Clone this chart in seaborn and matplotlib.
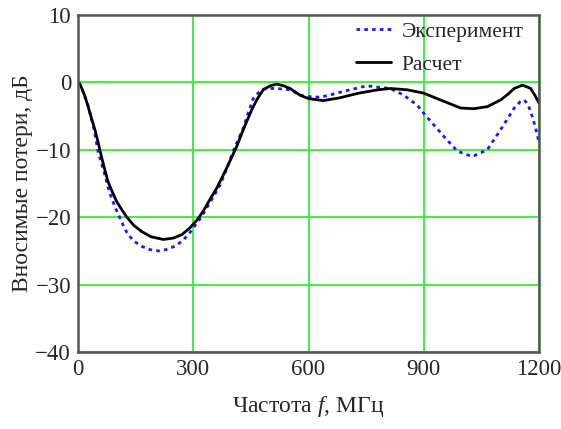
import numpy as np
import pandas as pd
import matplotlib
matplotlib.use("Agg")
import matplotlib.pyplot as plt
import seaborn as sns

# Data
calc_f = [0, 5, 17, 26, 35, 44, 52, 61, 70, 78, 89, 100, 113, 126, 145, 165, 190, 222,
          248, 270, 291, 310, 326, 343, 361, 374, 387, 400, 413, 426, 439, 452, 465, 482,
          500, 517, 535, 552, 578, 600, 638, 680, 730, 780, 813, 857, 900, 943, 996, 1030,
          1065, 1100, 1120, 1135, 1157, 1178, 1190, 1200]
calc_db = [0, -0.2, -1.9, -3.5, -5.3, -7.0, -8.8, -11.0, -13.0, -14.7, -16.2, -17.6, -18.8,
           -19.9, -21.2, -22.1, -22.9, -23.3, -23.1, -22.6, -21.6, -20.4, -19.1, -17.4, -15.7,
           -14.2, -12.7, -11.1, -9.5, -7.6, -5.8, -4.1, -2.6, -1.1, -0.5, -0.25, -0.5, -0.9,
           -1.9, -2.4, -2.7, -2.3, -1.6, -1.1, -0.9, -1.1, -1.6, -2.6, -3.8, -3.9, -3.6, -2.6,
           -1.7, -0.9, -0.4, -0.9, -2.0, -3.1]

exp_f = [0, 8, 16, 26, 35, 43, 52, 61, 70, 78, 87, 98, 109, 120, 130, 147, 165, 187, 209,
         230, 252, 270, 287, 300, 322, 335, 352, 370, 387, 404, 417, 430, 443, 456, 470, 482,
         500, 517, 552, 578, 600, 630, 660, 700, 730, 751, 780, 813, 848, 883, 900, 926, 952,
         987, 1026, 1065, 1100, 1120, 1135, 1150, 1161, 1170, 1178, 1191, 1200]
exp_db = [0, -0.6, -1.8, -3.4, -5.4, -7.3, -10.2, -12.0, -13.7, -15.5, -17.1, -18.7, -20.1,
          -21.5, -22.6, -23.6, -24.3, -24.8, -25.0, -24.8, -24.3, -23.6, -22.6, -21.6, -19.9,
          -18.6, -17.0, -15.2, -12.8, -10.2, -8.5, -6.8, -4.5, -2.4, -1.5, -1.0, -0.9, -0.9,
          -1.1, -1.9, -2.1, -2.2, -1.8, -1.2, -0.8, -0.5, -0.7, -0.9, -1.9, -3.4, -4.6, -6.3,
          -8.0, -10.2, -11.0, -10.0, -7.0, -5.2, -3.8, -2.9, -2.6, -3.2, -4.3, -6.8, -9.0]

x_ticks = [0, 300, 600, 900, 1200]
y_ticks = [-40, -30, -20, -10, 0, 10]
x_label = "Частота $\\it{f}$, МГц"
y_label = "Вносимые потери, дБ"
series_names = ["Эксперимент", "Расчет"]

df = pd.concat([
    pd.DataFrame({"f": exp_f, "db": exp_db, "s": series_names[0]}),
    pd.DataFrame({"f": calc_f, "db": calc_db, "s": series_names[1]}),
])

sns.set_style("white")
plt.rcParams["font.family"] = ["Liberation Serif", "DejaVu Serif"]
plt.rcParams["mathtext.fontset"] = "custom"
plt.rcParams["mathtext.it"] = "Liberation Serif:italic"
plt.rcParams["mathtext.rm"] = "Liberation Serif"

fig = plt.figure(figsize=(5.61, 4.29), dpi=100)
ax = fig.add_axes([0.139, 0.1795, 0.822, 0.7855])

sns.lineplot(data=df, x="f", y="db", hue="s", style="s",
             palette={series_names[0]: "#1a1aff", series_names[1]: "black"},
             dashes={series_names[0]: (1.3, 1.5), series_names[1]: ""},
             linewidth=2.0, ax=ax, sort=False, legend=True)

ax.set_xlim(0, 1200)
ax.set_ylim(-40, 10)
ax.set_xticks(x_ticks)
ax.set_yticks(y_ticks)
ax.set_yticklabels([str(v).replace("-", "\u2212") for v in y_ticks])
ax.grid(True, color="#33ee33", linewidth=1.3)
ax.set_axisbelow(True)
ax.tick_params(length=0, labelsize=16.5, pad=5)
for sp in ax.spines.values():
    sp.set_color("#555555")
    sp.set_linewidth(1.8)
ax.set_xlabel(x_label, fontsize=17, labelpad=10)
ax.set_ylabel(y_label, fontsize=17, labelpad=2)

leg = ax.legend(loc="upper right", frameon=False, fontsize=15.5,
                handlelength=1.6, handletextpad=0.5, borderaxespad=0.0,
                labelspacing=0.6, bbox_to_anchor=(0.985, 1.005))
for line in leg.get_lines():
    line.set_linewidth(2.0)

fig.savefig("out.png", dpi=100)
